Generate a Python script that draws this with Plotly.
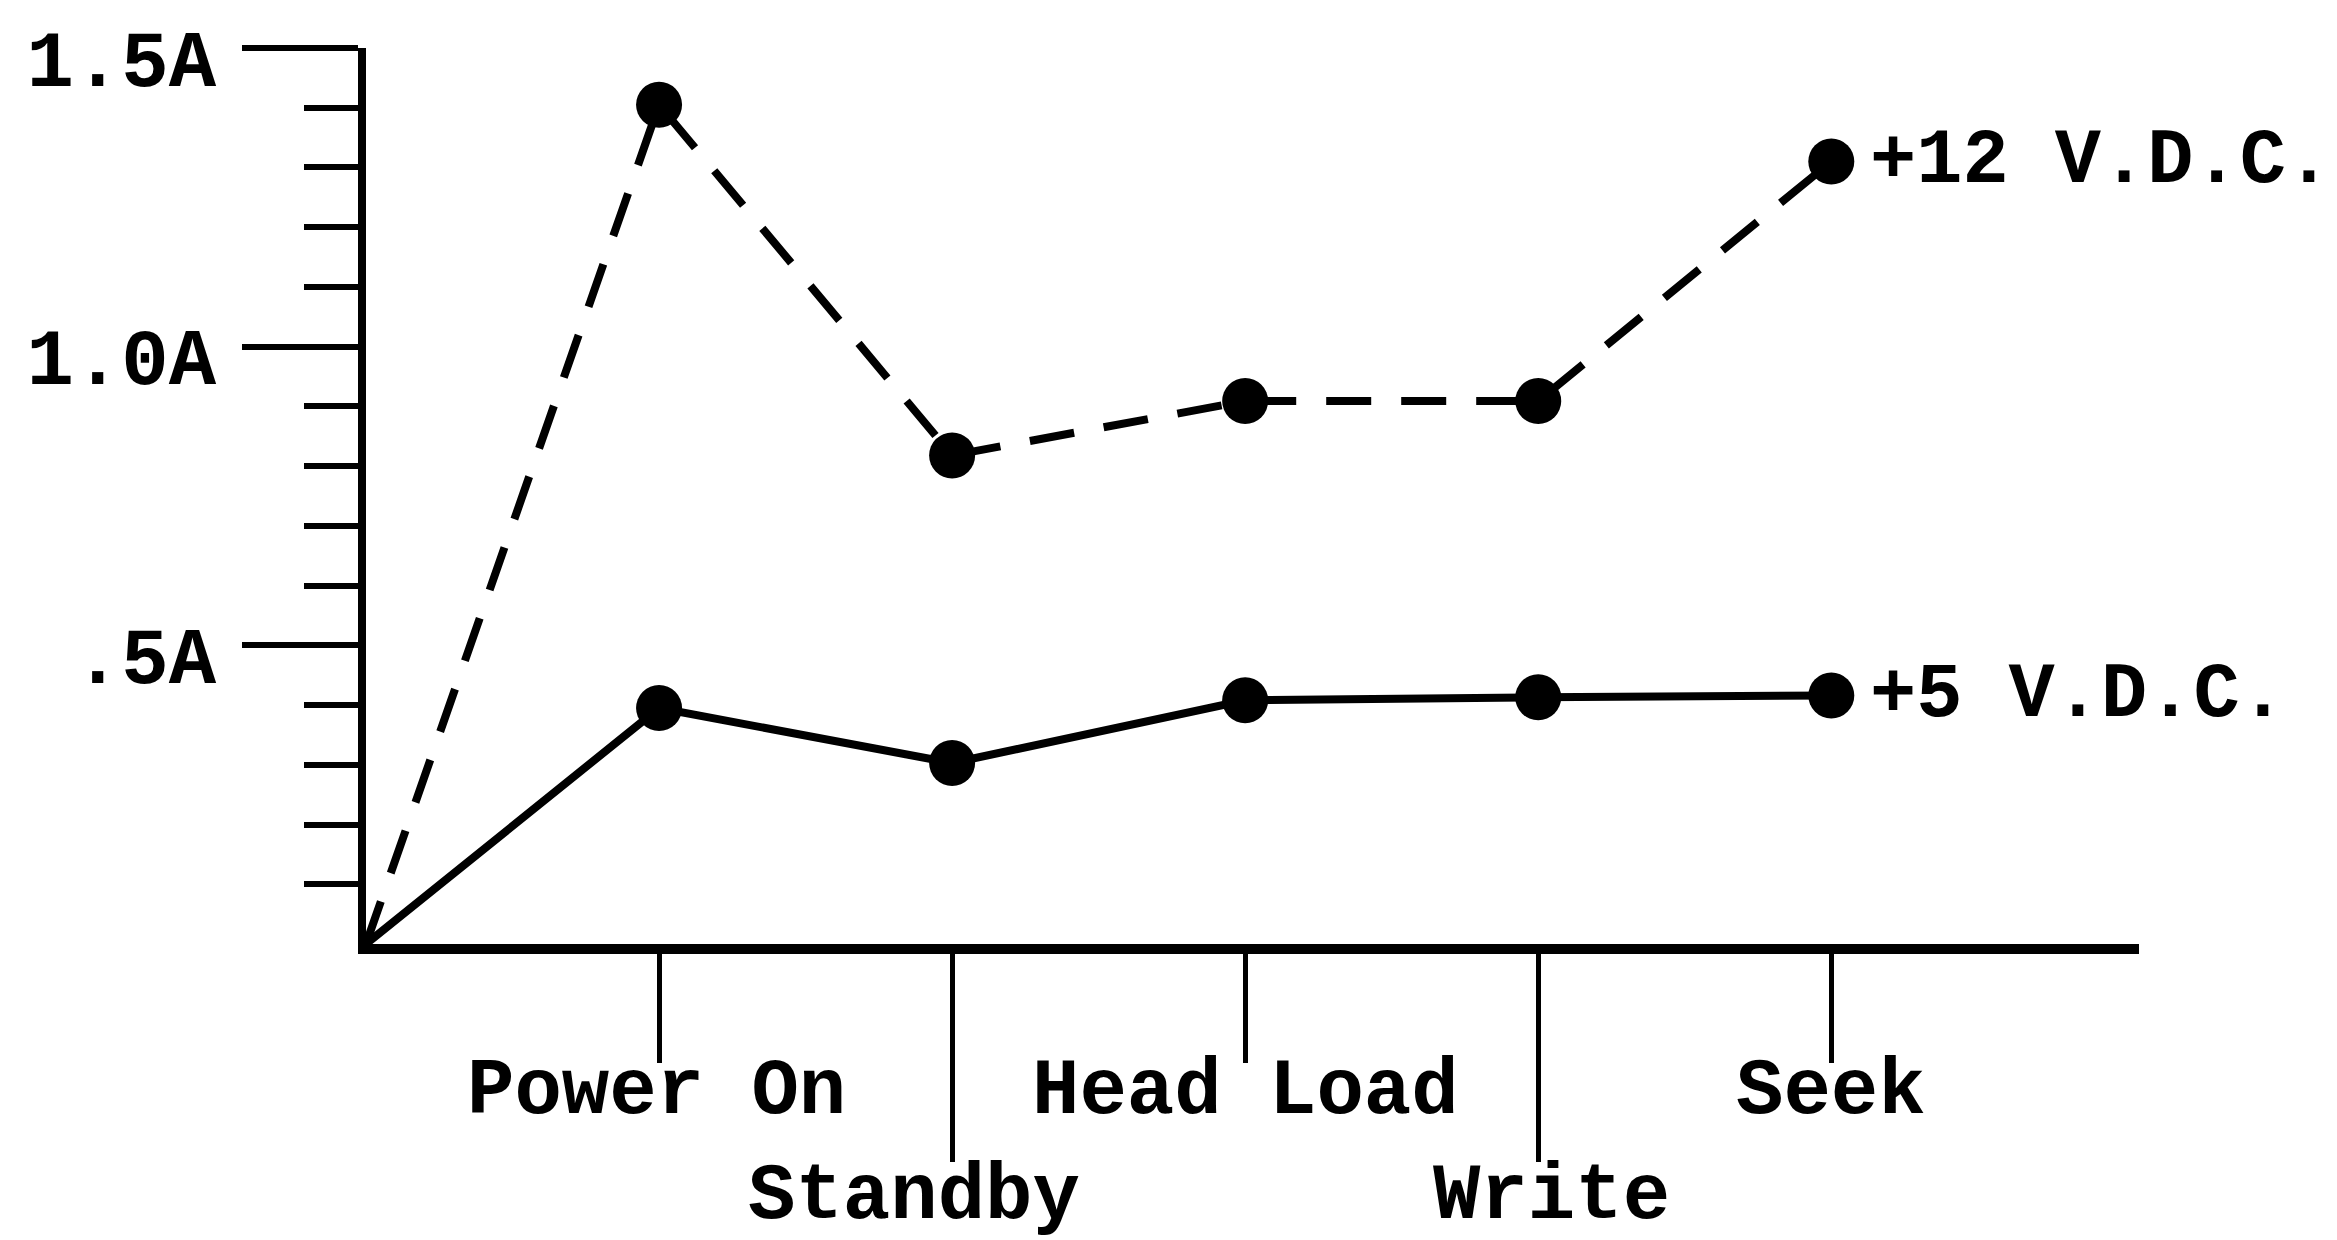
import plotly.graph_objects as go

# ---- data ----
x_pos = [0, 1, 2, 3, 4, 5]
categories = ["", "Power On", "Standby", "Head Load", "Write", "Seek"]
v12 = [0.0, 1.405, 0.818, 0.909, 0.909, 1.310]
v5 = [0.0, 0.395, 0.303, 0.408, 0.413, 0.416]
series_names = ["+12 V.D.C.", "+5 V.D.C."]
y_tickvals = [0.5, 1.0, 1.5]
y_ticktext = [".5A", "1.0A", "1.5A"]
y_minor = [0.1, 0.2, 0.3, 0.4, 0.6, 0.7, 0.8, 0.9, 1.1, 1.2, 1.3, 1.4]

FONT = "Liberation Mono"
FS = 79
W, H = 2337, 1240

msize = [0] + [46] * 5
mk = dict(color="#000000", size=msize, opacity=1, line=dict(width=0))
tfont = dict(family=FONT, size=FS, color="black", weight="bold")
sfont = dict(family=FONT, size=77, color="black", weight="bold")

fig = go.Figure()
fig.add_trace(go.Scatter(
    x=x_pos, y=v12, mode="lines+markers", name=series_names[0],
    line=dict(color="#000000", width=8, dash="45px,30px"),
    marker=mk, cliponaxis=False,
))
fig.add_trace(go.Scatter(
    x=x_pos, y=v5, mode="lines+markers", name=series_names[1],
    line=dict(color="#000000", width=8),
    marker=mk, cliponaxis=False,
))

# category labels (staggered as in original)
label_y = {1: -0.165, 2: -0.282, 3: -0.165, 4: -0.282, 5: -0.165}
label_dx = {1: -3, 2: -38, 3: 0, 4: 13, 5: 0}
for i in range(1, 6):
    fig.add_annotation(x=x_pos[i], y=label_y[i], xref="x", yref="paper",
                       text=categories[i], showarrow=False,
                       xanchor="center", yanchor="middle", xshift=label_dx[i],
                       font=tfont)

# series labels
for vals, name in ((v12, series_names[0]), (v5, series_names[1])):
    fig.add_annotation(x=x_pos[-1], y=vals[-1], xref="x", yref="y",
                       text=name, showarrow=False, xanchor="left",
                       yanchor="middle", xshift=37,
                       font=sfont)

fig.update_layout(
    width=W, height=H,
    margin=dict(l=358, r=206, t=38, b=304, pad=0),
    paper_bgcolor="white", plot_bgcolor="white",
    showlegend=False,
    font=tfont,
    xaxis=dict(
        range=[0, 6.05], showgrid=False, zeroline=False,
        showline=True, linecolor="black", linewidth=10,
        tickmode="array", tickvals=[1, 3, 5], ticktext=["", "", ""],
        ticks="outside", ticklen=109, tickwidth=5, tickcolor="black",
        minor=dict(tickmode="array", tickvals=[2, 4], ticks="outside",
                   ticklen=208, tickwidth=5, tickcolor="black", showgrid=False),
        showticklabels=False,
    ),
    yaxis=dict(
        range=[0, 1.5], showgrid=False, zeroline=False,
        showline=True, linecolor="black", linewidth=8,
        tickmode="array", tickvals=y_tickvals, ticktext=y_ticktext,
        ticks="outside", ticklen=116, tickwidth=6, tickcolor="black",
        ticklabelstandoff=10, ticklabelshift=10, ticklabeloverflow="allow",
        minor=dict(tickmode="array", tickvals=y_minor, ticks="outside",
                   ticklen=54, tickwidth=6, tickcolor="black", showgrid=False),
        tickfont=tfont,
    ),
)

fig.write_html("out.html")
